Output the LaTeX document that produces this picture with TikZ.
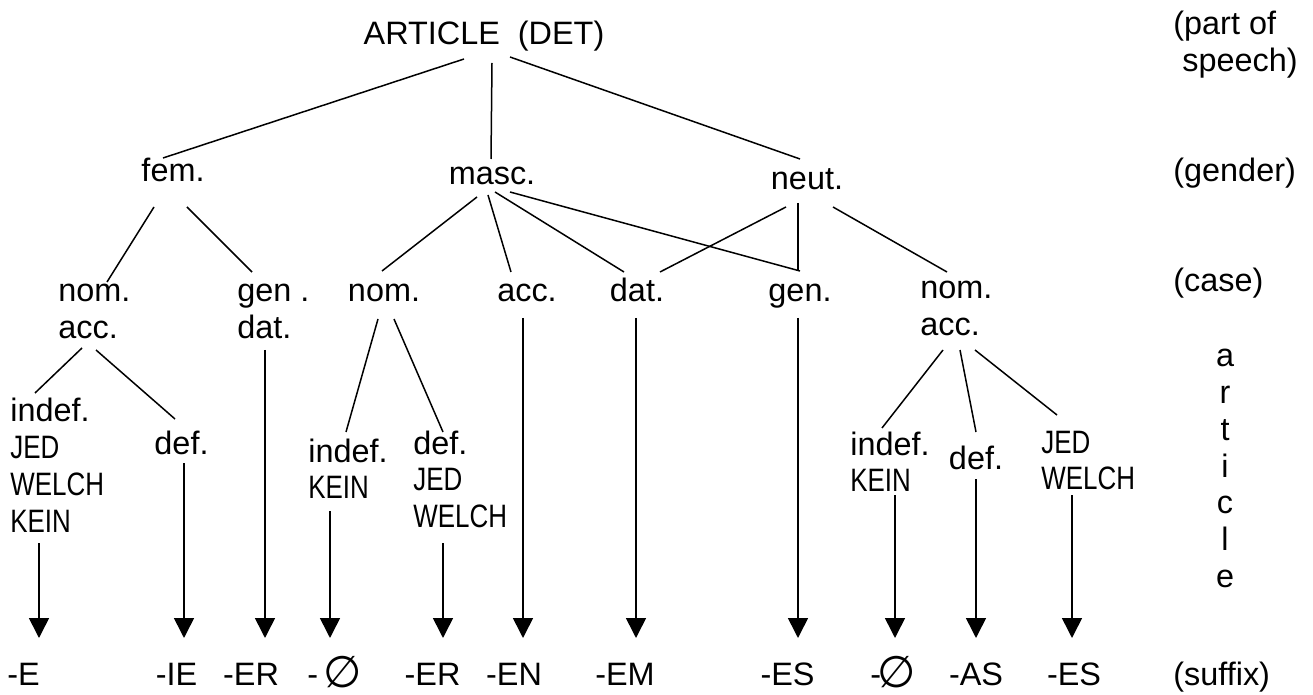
\documentclass[tikz,border=0pt]{standalone}
\usepackage{fontspec}
\setmainfont{Liberation Sans}
\newfontfamily\narrowfont{Liberation Sans}[FakeStretch=0.8]
\newfontfamily\symfont{DejaVu Sans}
\usetikzlibrary{arrows.meta}

% multi-line label, first line on the node's baseline
\newcommand{\lines}[1]{\begin{tabular}[t]{@{}l@{}}#1\end{tabular}}
\newcommand{\nil}{{\fontsize{22}{22}\symfont\raisebox{-1pt}{∅}}}

\tikzset{
  txt/.style={inner sep=0pt, anchor=base, font=\fontsize{16.2}{18.4}\selectfont},
  txtw/.style={txt, anchor=base west},
  branch/.style={line width=0.75pt},
  arr/.style={line width=0.8pt, -{Triangle[width=10pt,length=10pt]}},
}

\begin{document}
\begin{tikzpicture}[x=0.5pt, y=-0.5pt]
\useasboundingbox (0,0) rectangle (1313,695);

% part of speech
\node[txt] (art) at (484,45) {ARTICLE\ \ (DET)};

% gender
\node[txt] (fem)  at (173,182) {fem.};
\node[txt] (masc) at (492,185) {masc.};
\node[txt] (neut) at (807,190) {neut.};

% case
\node[txtw] (fna)  at (58,302)  {\lines{nom.\\acc.}};
\node[txtw] (fgd)  at (237,302) {\lines{gen .\\dat.}};
\node[txt]  (mnom) at (384,302) {nom.};
\node[txt]  (macc) at (527,302) {acc.};
\node[txt]  (mdat) at (637,302) {dat.};
\node[txt]  (mgen) at (800,302) {gen.};
\node[txtw] (nna)  at (920,299) {\lines{nom.\\acc.}};

% article
\node[txtw] (fin)  at (10,422)  {\lines{indef.\\{\narrowfont JED}\\{\narrowfont WELCH}\\{\narrowfont KEIN}}};
\node[txt]  (fdef) at (181.5,454) {def.};
\node[txtw] (min)  at (308,462) {\lines{indef.\\{\narrowfont KEIN}}};
\node[txtw] (mdef) at (413,454) {\lines{def.\\{\narrowfont JED}\\{\narrowfont WELCH}}};
\node[txtw] (nin)  at (850,455) {\lines{indef.\\{\narrowfont KEIN}}};
\node[txt]  (ndef) at (976,470) {def.};
\node[txtw] (njw)  at (1041,453) {\lines{{\narrowfont JED}\\{\narrowfont WELCH}}};

% suffixes
\node[txt]  (sE)   at (23.5,685) {-E};
\node[txt]  (sIE)  at (176.5,685) {-IE};
\node[txt]  (sER)  at (251,685) {-ER};
\node[txtw] (sN1)  at (307,685) {-\kern2.5pt\nil};
\node[txt]  (sER2) at (432.5,685) {-ER};
\node[txt]  (sEN)  at (514,685) {-EN};
\node[txt]  (sEM)  at (625,685) {-EM};
\node[txt]  (sES)  at (787.5,685) {-ES};
\node[txtw] (sN2)  at (870,685) {-\kern-2pt\nil};
\node[txt]  (sAS)  at (976,685) {-AS};
\node[txt]  (sES2) at (1074,685) {-ES};

% level labels
\node[txtw] (lpos) at (1173,35)  {\lines{(part of\\\hspace*{0.28em}speech)}};
\node[txtw] (lgen) at (1173,182) {(gender)};
\node[txtw] (lcas) at (1173,292) {(case)};
\node[txt, font=\fontsize{16.2}{18.35}\selectfont] (lart) at (1225,367)
  {\begin{tabular}[t]{@{}c@{}}a\\r\\t\\i\\c\\l\\e\end{tabular}};
\node[txtw] (lsuf) at (1173,685) {(suffix)};

% tree branches
\draw[branch] ([shift={(-20,14)}]art.base) -- ([shift={(-10,-24)}]fem.base);
\draw[branch] ([shift={(8,18)}]art.base)   -- ([shift={(-1,-26)}]masc.base);
\draw[branch] ([shift={(26,12)}]art.base)  -- ([shift={(-7,-31)}]neut.base);

\draw[branch] ([shift={(-19,25)}]fem.base) -- ([shift={(49,-20)}]fna.base west);
\draw[branch] ([shift={(14,25)}]fem.base)  -- ([shift={(15,-30)}]fgd.base west);
\draw[branch] ([shift={(24,46)}]fna.base west) -- ([shift={(25,-29)}]fin.base west);
\draw[branch] ([shift={(38,48)}]fna.base west) -- ([shift={(-6.5,-35)}]fdef.base);

\draw[branch] ([shift={(-15,12)}]masc.base) -- ([shift={(-2,-31)}]mnom.base);
\draw[branch] ([shift={(-4,10)}]masc.base)  -- ([shift={(-16,-30)}]macc.base);
\draw[branch] ([shift={(3,7)}]masc.base)    -- ([shift={(-13,-30)}]mdat.base);
\draw[branch] ([shift={(18,7)}]masc.base)   -- ([shift={(0,-31)}]mgen.base);

\draw[branch] ([shift={(-21,17)}]neut.base) -- ([shift={(23,-30)}]mdat.base);
\draw[branch] ([shift={(-9,13)}]neut.base)  -- ([shift={(-2,-32)}]mgen.base);
\draw[branch] ([shift={(26,17)}]neut.base)  -- ([shift={(27,-27)}]nna.base west);

\draw[branch] ([shift={(-6,17)}]mnom.base) -- ([shift={(38,-30)}]min.base west);
\draw[branch] ([shift={(10,17)}]mnom.base) -- ([shift={(30,-22)}]mdef.base west);

\draw[branch] ([shift={(23,51)}]nna.base west) -- ([shift={(32,-27)}]nin.base west);
\draw[branch] ([shift={(40,51)}]nna.base west) -- ([shift={(0,-38)}]ndef.base);
\draw[branch] ([shift={(55,51)}]nna.base west) -- ([shift={(16,-38)}]njw.base west);

% arrows to the suffixes
\draw[arr] ([shift={(29,121)}]fin.base west) -- ([shift={(15.5,-47)}]sE.base);
\draw[arr] ([shift={(2.5,9)}]fdef.base)      -- ([shift={(7.5,-47)}]sIE.base);
\draw[arr] ([shift={(28,48)}]fgd.base west)  -- ([shift={(14,-47)}]sER.base);
\draw[arr] ([shift={(22,49)}]min.base west)  -- ([shift={(23,-47)}]sN1.base west);
\draw[arr] ([shift={(30,89)}]mdef.base west) -- ([shift={(10.5,-47)}]sER2.base);
\draw[arr] ([shift={(-4,16)}]macc.base)      -- ([shift={(9,-47)}]sEN.base);
\draw[arr] ([shift={(-1,16)}]mdat.base)      -- ([shift={(11,-47)}]sEM.base);
\draw[arr] ([shift={(-2,16)}]mgen.base)      -- ([shift={(10.5,-47)}]sES.base);
\draw[arr] ([shift={(45,40)}]nin.base west)  -- ([shift={(25,-47)}]sN2.base west);
\draw[arr] ([shift={(0,9)}]ndef.base)        -- ([shift={(0,-47)}]sAS.base);
\draw[arr] ([shift={(31,42)}]njw.base west)  -- ([shift={(-2,-47)}]sES2.base);
\end{tikzpicture}
\end{document}
